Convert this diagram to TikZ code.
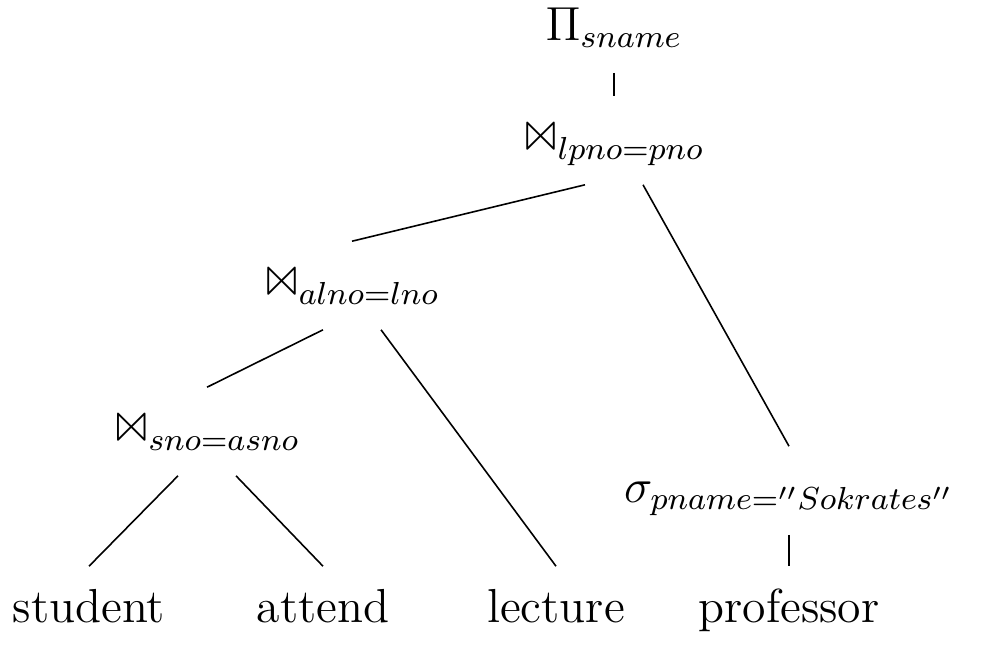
\documentclass[12pt,tikz,border=0pt]{standalone}
\usepackage{latexsym}
\begin{document}
\begin{tikzpicture}[x=0.2513pt,y=-0.2513pt,
  tn/.style={anchor=base,inner sep=0pt,text height=13.82pt,text depth=8.04pt},
  edge/.style={line width=0.4pt}]
\useasboundingbox (0,0) rectangle (983,664);
\node[tn] (pi)  at (614,40)    {$\Pi_{sname}$};
\node[tn] (j1)  at (614,152)   {$\Join_{lpno=pno}$};
\node[tn] (j2)  at (352,297)   {$\Join_{alno=lno}$};
\node[tn] (j3)  at (207,443)   {$\Join_{sno=asno}$};
\node[tn] (sig) at (789,502)   {$\sigma_{pname=''Sokrates''}$};
\node[tn] (stu) at (89,622)    {student};
\node[tn] (att) at (323,622)   {attend};
\node[tn] (lec) at (556,622)   {lecture};
\node[tn] (pro) at (789,622)   {professor};
\draw[edge] (pi.south) -- (j1.north);
\draw[edge] ([xshift=-7.29pt]j1.south) -- (j2.north);
\draw[edge] ([xshift=7.29pt]j1.south) -- (sig.north);
\draw[edge] ([xshift=-7.29pt]j2.south) -- (j3.north);
\draw[edge] ([xshift=7.29pt]j2.south) -- (lec.north);
\draw[edge] ([xshift=-7.29pt]j3.south) -- (stu.north);
\draw[edge] ([xshift=7.29pt]j3.south) -- (att.north);
\draw[edge] (sig.south) -- (pro.north);
\end{tikzpicture}
\end{document}
